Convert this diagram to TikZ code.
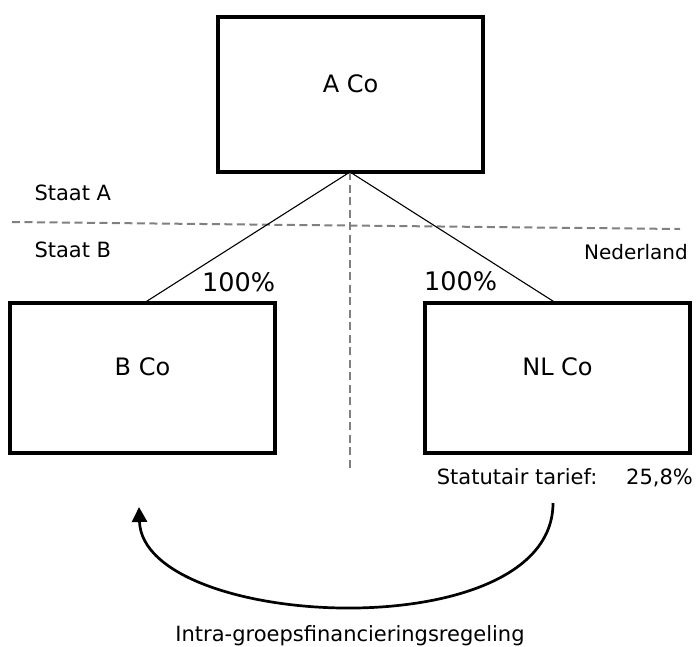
\documentclass[tikz,border=0pt]{standalone}
\usepackage{fontspec}
\setmainfont{DejaVu Sans}
\usetikzlibrary{arrows.meta}

\begin{document}
\begin{tikzpicture}[x=1pt,y=-1pt,
  company/.style={draw=black,line width=4pt,outer sep=0pt,inner sep=0pt,
    minimum width=264.5pt,minimum height=151pt},
  cotext/.style={anchor=base,font=\fontsize{24}{28}\selectfont},
  lbl/.style={inner sep=0pt,font=\fontsize{21}{25}\selectfont},
  pct/.style={inner sep=0pt,anchor=base west,font=\fontsize{25.5}{30}\selectfont},
  own/.style={draw=black,line width=1.1pt},
  border/.style={draw=black!50,line width=2pt,dash pattern=on 8pt off 4.5pt},
  flow/.style={draw=black,line width=2.7pt,-{Triangle[length=15pt,width=15pt]}}]

\useasboundingbox (0,0) rectangle (696,646);

% companies
\node[company,minimum height=155pt] (A) at (350.6,94.5) {};
\node[company,minimum height=149.7pt] (B) at (142.5,377.9) {};
\node[company,minimum height=149.7pt] (NL) at (557.5,377.9) {};

\node[cotext] (At) at ([yshift=2pt]A.center) {A Co};
\node[cotext] (Bt) at ([yshift=2pt]B.center) {B Co};
\node[cotext] (NLt) at ([yshift=2pt]NL.center) {NL Co};

% country borders
\coordinate (hl) at (12,222);
\coordinate (hr) at (680,229);
\coordinate (vb) at (350,471);
\coordinate (apex) at (350,172);
\draw[border] (hl) -- (hr);
\draw[border] (apex) -- (vb);

% shareholdings
\coordinate (Btop) at (144,303);
\coordinate (NLtop) at (556,303);
\draw[own] (apex) -- (Btop);
\draw[own] (apex) -- (NLtop);
\node[pct] (pB) at (202,291.5) {100\%};
\node[pct] (pNL) at (424,290.5) {100\%};

% state labels
\node[lbl,anchor=base west] (sA) at (34.3,200) {Staat A};
\node[lbl,anchor=base west] (sB) at (34.3,257.3) {Staat B};
\node[inner sep=0pt,anchor=base east,font=\fontsize{20}{24}\selectfont] (ned) at (688,259.3) {Nederland};

% tax rate
\node[lbl,anchor=base west] (tar) at (436.7,484.3) {Statutair tarief:};
\node[lbl,anchor=base west] (rate) at (626,484.3) {25,8\%};

% intra-group financing
\coordinate (arrS) at (553,503);
\coordinate (arrE) at (139,507);
\draw[flow] (arrS) .. controls (553,650) and (143,630) .. (arrE);
\node[lbl,anchor=base] (fin) at (350,641) {Intra-groepsfinancieringsregeling};

\end{tikzpicture}
\end{document}
